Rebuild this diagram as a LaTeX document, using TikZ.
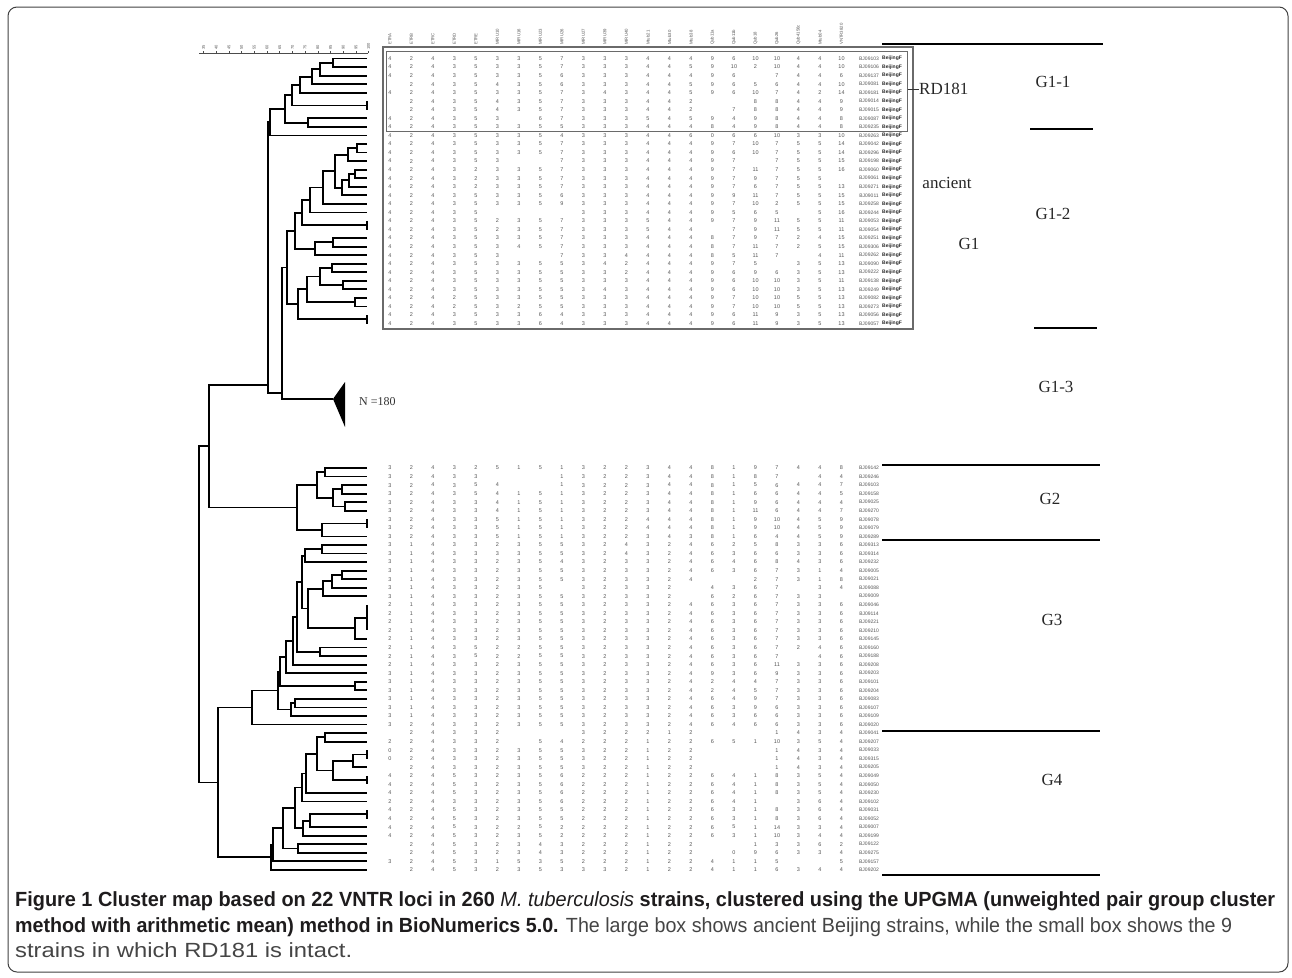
\documentclass[tikz,border=0pt]{standalone}
\usepackage{fontspec}
\usepackage{graphicx}
\setmainfont{Liberation Serif}
\newfontfamily\sansnum{Liberation Sans}
\newfontfamily\capfont{Liberation Sans}
\usetikzlibrary{calc}
\definecolor{capdark}{HTML}{1E1C1D}
\definecolor{capgray}{HTML}{454545}
\definecolor{numgray}{HTML}{555555}
\definecolor{boxgray}{HTML}{6A6A6A}
\newsavebox\capbox
\newcommand\fitline[2]{\sbox\capbox{#2}\pgfmathsetmacro\capsx{#1/\the\wd\capbox}\scalebox{\capsx}[1]{\usebox\capbox}}
\newcommand\mk[4]{%
  \coordinate (tx) at (#2,0);
  \coordinate (tm) at ($(#3)!.5!(#4)$);
  \coordinate (#1) at (tm -| tx);
  \draw[tree] (#3) -- (#3 -| #1) -- (#4 -| #1) -- (#4);}
\newcommand\tie[3]{%
  \coordinate (#1) at ($(#2)!.5!(#3)$);
  \draw[tree] (#2) -- (#3);}
\newcommand\tblock[4]{%
  \foreach \rowvals [count=\r from 0] in {#4}{%
    \foreach \v [count=\c from 0] in \rowvals {%
      \ifnum\c<22
        \node[num] (#1\r-\c) at ({390+21.5*\c},{#2+8.55*\r}) {\v};
      \else
        \node[sid] (#1id\r) at (869,{#2+8.55*\r}) {\v};
        \ifnum#3=1 \node[bj] (#1bj\r) at (892,{#2+8.55*\r}) {BeijingF};\fi
      \fi
    }%
  }%
}
\tikzset{
  tree/.style={line width=1.8pt, black, line join=miter},
  num/.style={font=\sansnum\fontsize{5.5}{6}\selectfont, text=numgray, inner sep=0pt},
  sid/.style={font=\sansnum\fontsize{5}{6}\selectfont, text=numgray, inner sep=0pt},
  bj/.style={font=\sansnum\bfseries\fontsize{5}{6}\selectfont, text=black!85, inner sep=0pt},
  hdr/.style={font=\sansnum\fontsize{4.3}{5}\selectfont, text=numgray, inner sep=0pt, rotate=90, anchor=west},
  scl/.style={font=\sansnum\fontsize{4}{5}\selectfont, text=numgray, inner sep=0pt, rotate=90, anchor=west},
  lab/.style={font=\fontsize{17}{20}\selectfont, text=black!85, inner sep=0pt},
  sep/.style={line width=2.7pt, black},
  tbox/.style={draw=boxgray, line width=1.3pt},
  capline/.style={anchor=base west, inner sep=0pt}
}
\begin{document}
\begin{tikzpicture}[x=1pt,y=-1pt]
\useasboundingbox (0,0) rectangle (1292,977);
\draw[black!75, line width=1pt, rounded corners=9pt] (8,7) rectangle (1288,972);

% scale bar
\draw[line width=0.8pt, black!70] (199,53) -- (368,53);
\foreach \s [count=\i from 0] in {35,40,45,50,55,60,65,70,75,80,85,90,95,100}{
  \draw[line width=0.5pt, black!70] ({203.5+12.7*\i},53) -- ({203.5+12.7*\i},50.5);
  \node[scl] (sc\i) at ({203.5+12.7*\i},50) {\s};
}

% column headers
\foreach \h [count=\c from 0] in {ETRA,ETRB,ETRC,ETRD,ETRE,MIRU10,MIRU16,MIRU23,MIRU26,MIRU27,MIRU39,MIRU40,Mtub21,Mtub30,Mtub38,Qub11a,Qub11b,Qub18,Qub26,Qub4156c,Mtub04,VNTR3820}{
  \node[hdr] (h\c) at ({390+21.5*\c},45) {\h};
}

% boxes
\draw[tbox] (383,47) rectangle (913,329);
\draw[tbox] (386.5,51.5) rectangle (907.5,131.5);

% table G1
\tblock{g}{58.5}{1}{%
{4,2,4,3,5,3,3,5,7,3,3,3,4,4,4,9,6,10,10,4,4,10,BJ09103},
{4,2,4,3,5,3,3,5,7,3,3,3,4,4,5,9,10,2,10,4,4,10,BJ09106},
{4,2,4,3,5,3,3,5,6,3,3,3,4,4,4,9,6,,7,4,4,6,BJ09137},
{,2,4,3,5,4,3,5,6,3,3,3,4,4,5,9,6,5,6,4,4,10,BJ09081},
{4,2,4,3,5,3,3,5,7,3,4,3,4,4,5,9,6,10,7,4,2,14,BJ09181},
{,2,4,3,5,4,3,5,7,3,3,3,4,4,2,,,8,8,4,4,9,BJ09014},
{,2,4,3,5,4,3,5,7,3,3,3,4,4,2,,7,8,8,4,4,9,BJ09015},
{4,2,4,3,5,3,,6,7,3,3,3,5,4,5,9,4,9,8,4,4,8,BJ09087},
{4,2,4,3,5,3,3,5,5,3,3,3,4,4,4,8,4,9,8,4,4,8,BJ09235},
{4,2,4,3,5,3,3,5,4,3,3,3,4,4,6,0,6,6,10,3,3,10,BJ09263},
{4,2,4,3,5,3,3,5,7,3,3,3,4,4,4,9,7,10,7,5,5,14,BJ09042},
{4,2,4,3,5,3,3,5,7,3,3,3,4,4,4,9,6,10,7,5,5,14,BJ09296},
{4,2,4,3,5,3,,,7,3,3,3,4,4,4,9,7,,7,5,5,15,BJ09198},
{4,2,4,3,2,3,3,5,7,3,3,3,4,4,4,9,7,11,7,5,5,16,BJ09060},
{4,2,4,3,2,3,3,5,7,3,3,3,4,4,4,9,7,9,7,5,5,,BJ09061},
{4,2,4,3,2,3,3,5,7,3,3,3,4,4,4,9,7,6,7,5,5,13,BJ09271},
{4,2,4,3,5,3,3,5,6,3,3,3,4,4,4,9,9,11,7,5,5,15,BJ09011},
{4,2,4,3,5,3,3,5,9,3,3,3,4,4,4,9,7,10,2,5,5,15,BJ09258},
{4,2,4,3,5,,,,,3,3,3,4,4,4,9,5,6,5,,5,16,BJ09244},
{4,2,4,3,5,2,3,5,7,3,3,3,5,4,4,9,7,9,11,5,5,11,BJ09053},
{4,2,4,3,5,2,3,5,7,3,3,3,5,4,4,,7,9,11,5,5,11,BJ09054},
{4,2,4,3,5,3,3,5,7,3,3,3,4,4,4,8,7,9,7,2,4,15,BJ09251},
{4,2,4,3,5,3,4,5,7,3,3,3,4,4,4,8,7,11,7,2,5,15,BJ09306},
{4,2,4,3,5,3,,,7,3,3,4,4,4,4,8,5,11,7,,4,11,BJ09262},
{4,2,4,3,5,3,3,5,5,3,4,2,4,4,4,9,7,5,,3,5,13,BJ09090},
{4,2,4,3,5,3,3,5,5,3,3,2,4,4,4,9,6,9,6,3,5,13,BJ09222},
{4,2,4,3,5,3,3,5,5,3,3,3,4,4,4,9,6,10,10,3,5,11,BJ09138},
{4,2,4,3,5,3,3,5,5,3,4,3,4,4,4,9,6,10,10,3,5,13,BJ09249},
{4,2,4,2,5,3,3,5,5,3,3,3,4,4,4,9,7,10,10,5,5,13,BJ09082},
{4,2,4,2,5,3,2,5,5,3,3,3,4,4,4,9,7,10,10,5,5,13,BJ09273},
{4,2,4,3,5,3,3,6,4,3,3,3,4,4,4,9,6,11,9,3,5,13,BJ09056},
{4,2,4,3,5,3,3,6,4,3,3,3,4,4,4,9,6,11,9,3,5,13,BJ09057}}

% table lower block
\tblock{l}{468}{0}{%
{3,2,4,3,2,5,1,5,1,3,2,2,3,4,4,8,1,9,7,4,4,8,BJ09142},
{3,2,4,3,3,,,,1,3,2,2,3,4,4,8,1,8,7,,4,4,BJ09246},
{3,2,4,3,5,4,,,1,3,2,2,3,4,4,8,1,5,6,4,4,7,BJ09103},
{3,2,4,3,5,4,1,5,1,3,2,2,3,4,4,8,1,6,6,4,4,5,BJ09158},
{3,2,4,3,3,4,1,5,1,3,2,2,3,4,4,8,1,9,6,4,4,4,BJ09025},
{3,2,4,3,3,4,1,5,1,3,2,2,3,4,4,8,1,11,6,4,4,7,BJ09270},
{3,2,4,3,3,5,1,5,1,3,2,2,4,4,4,8,1,9,10,4,5,9,BJ09078},
{3,2,4,3,3,5,1,5,1,3,2,2,4,4,4,8,1,9,10,4,5,9,BJ09079},
{3,2,4,3,3,5,1,5,1,3,2,2,3,4,3,8,1,6,4,4,5,9,BJ09289},
{3,1,4,3,3,2,3,5,5,3,2,4,3,2,4,6,2,5,8,3,3,6,BJ09313},
{3,1,4,3,3,3,3,5,5,3,2,4,3,2,4,6,3,6,6,3,3,6,BJ09314},
{3,1,4,3,3,2,3,5,4,3,2,3,3,2,4,6,4,6,8,4,3,6,BJ09232},
{3,1,4,3,3,2,3,5,5,3,2,3,3,2,4,6,3,6,7,3,1,4,BJ09005},
{3,1,4,3,3,2,3,5,5,3,2,3,3,2,4,,,2,7,3,1,8,BJ09021},
{3,1,4,3,3,2,3,5,,3,2,3,3,2,,4,3,6,7,,3,4,BJ09088},
{3,1,4,3,3,2,3,5,5,3,2,3,3,2,,6,2,6,7,3,3,,BJ09009},
{2,1,4,3,3,2,3,5,5,3,2,3,3,2,4,6,3,6,7,3,3,6,BJ09046},
{2,1,4,3,3,2,3,5,5,3,2,3,3,2,4,6,3,6,7,3,3,6,BJ09114},
{2,1,4,3,3,2,3,5,5,3,2,3,3,2,4,6,3,6,7,3,3,6,BJ09221},
{2,1,4,3,3,2,3,5,5,3,2,3,3,2,4,6,3,6,7,3,3,6,BJ09210},
{2,1,4,3,3,2,3,5,5,3,2,3,3,2,4,6,3,6,7,3,3,6,BJ09145},
{2,1,4,3,5,2,2,5,5,3,2,3,3,2,4,6,3,6,7,2,4,6,BJ09160},
{2,1,4,3,5,2,2,5,5,3,2,3,3,2,4,6,3,6,7,,4,6,BJ09188},
{2,1,4,3,3,2,3,5,5,3,2,3,3,2,4,6,3,6,11,3,3,6,BJ09208},
{3,1,4,3,3,2,3,5,5,3,2,3,3,2,4,9,3,6,9,3,3,6,BJ09203},
{3,1,4,3,3,2,3,5,5,3,2,3,3,2,4,2,4,4,7,3,3,6,BJ09101},
{3,1,4,3,3,2,3,5,5,3,2,3,3,2,4,2,4,5,7,3,3,6,BJ09204},
{3,1,4,3,3,2,3,5,5,3,2,3,3,2,4,6,4,9,7,3,3,6,BJ09083},
{3,1,4,3,3,2,3,5,5,3,2,3,3,2,4,6,3,9,6,3,3,6,BJ09107},
{3,1,4,3,3,2,3,5,5,3,2,3,3,2,4,6,3,6,6,3,3,6,BJ09109},
{3,2,4,3,3,2,3,5,5,3,2,3,3,2,4,6,4,6,6,3,3,6,BJ09020},
{,2,4,3,3,2,,,,3,2,2,2,1,2,,,,1,4,3,4,BJ09041},
{2,2,4,3,3,2,,5,4,2,2,2,1,2,2,6,5,1,10,3,5,4,BJ09207},
{0,2,4,3,3,2,3,5,5,3,2,2,1,2,2,,,,1,4,3,4,BJ09033},
{0,2,4,3,3,2,3,5,5,3,2,2,1,2,2,,,,1,4,3,4,BJ09315},
{,2,4,3,3,2,3,5,5,3,2,2,1,2,2,,,,1,4,3,4,BJ09205},
{4,2,4,5,3,2,3,5,6,2,2,2,1,2,2,6,4,1,8,3,5,4,BJ09049},
{4,2,4,5,3,2,3,5,6,2,2,2,1,2,2,6,4,1,8,3,5,4,BJ09050},
{4,2,4,5,3,2,3,5,6,2,2,2,1,2,2,6,4,1,8,3,5,4,BJ09230},
{2,2,4,3,3,2,3,5,6,2,2,2,1,2,2,6,4,1,,3,6,4,BJ09102},
{4,2,4,5,3,2,3,5,5,2,2,2,1,2,2,6,3,1,8,3,6,4,BJ09031},
{4,2,4,5,3,2,3,5,5,2,2,2,1,2,2,6,3,1,8,3,6,4,BJ09052},
{4,2,4,5,3,2,2,5,2,2,2,2,1,2,2,6,5,1,14,3,3,4,BJ09007},
{4,2,4,5,3,2,3,5,2,2,2,2,1,2,2,6,3,1,10,3,4,4,BJ09199},
{,2,4,5,3,2,3,4,3,2,2,2,1,2,2,,,1,3,3,6,2,BJ09122},
{,2,4,5,3,2,3,4,3,2,2,2,1,2,2,,0,9,6,3,3,4,BJ09275},
{3,2,4,5,3,1,5,3,5,2,2,2,1,2,2,4,1,1,5,,,5,BJ09157},
{,2,4,5,3,2,3,5,3,3,3,2,1,2,2,4,1,1,6,3,4,4,BJ09202}}

% leaves
\foreach \r in {0,...,31}{\coordinate (a\r) at (367,{58.5+8.55*\r});}
\foreach \r in {0,...,47}{\coordinate (b\r) at (367,{468+8.55*\r});}

% G1-1
\mk{n1}{333.3}{a0}{a1}
\mk{n2}{320}{n1}{a2}
\mk{n3}{311.7}{n2}{a3}
\mk{n4}{300}{n3}{a4}
\tie{p56}{a5}{a6}
\mk{n5}{291.7}{n4}{p56}
\mk{n6}{308.3}{a7}{a8}
\mk{n7}{285}{n5}{n6}
\mk{n8}{270}{n7}{a9}
% G1-2
\mk{m1}{356.7}{a10}{a11}
\mk{m2}{348.3}{m1}{a12}
\mk{m3}{355}{a13}{a14}
\mk{m4}{349.3}{m3}{a15}
\mk{m5}{342}{m4}{a16}
\mk{m6}{335}{m2}{m5}
\mk{m7}{322.7}{m6}{a17}
\mk{m8}{310}{m7}{a18}
\tie{p1920}{a19}{a20}
\mk{m9}{301.7}{m8}{p1920}
\mk{m10}{333.3}{a21}{a22}
\mk{m11}{315}{m10}{a23}
\mk{m12}{295}{m9}{m11}
\mk{m13}{331.7}{a24}{a25}
\mk{m14}{343.3}{a26}{a27}
\mk{m15}{320}{m13}{m14}
\mk{m16}{355}{a28}{a29}
\mk{m17}{306.7}{m15}{m16}
\tie{p3031}{a30}{a31}
\mk{m18}{298.3}{m17}{p3031}
\mk{m19}{286.7}{m12}{m18}
% G2
\mk{q1}{325}{b0}{b1}
\mk{q2}{341.7}{b2}{b3}
\mk{q3}{345}{b4}{b5}
\mk{q4}{333.3}{q2}{q3}
\mk{q5}{316.7}{q1}{q4}
\tie{pb67}{b6}{b7}
\mk{q6}{321.7}{pb67}{b8}
\mk{G2n}{296.7}{q5}{q6}
% G3
\mk{r1}{321.7}{b9}{b10}
\mk{r2}{305}{r1}{b11}
\mk{r3}{341.7}{b12}{b13}
\mk{r4}{331.7}{r3}{b14}
\mk{r5}{323.3}{r4}{b15}
\tie{t1619}{b16}{b19}
\mk{r6}{355}{t1619}{b20}
\mk{r7}{308.3}{r5}{r6}
\mk{r8}{301.7}{r2}{r7}
\mk{r9}{320}{b21}{b22}
\mk{r10}{296.7}{r8}{r9}
\mk{r11}{293.3}{r10}{b23}
\mk{r12}{286}{r11}{b24}
\mk{r13}{355}{b25}{b26}
\mk{r14}{280}{r12}{r13}
\mk{r15}{295}{b27}{b28}
\mk{r16}{290.7}{r15}{b29}
\mk{r17}{278.3}{r14}{r16}
\mk{G3n}{252.3}{r17}{b30}
% G4
\mk{s1}{325}{b31}{b32}
\tie{t3334}{b33}{b34}
\mk{s2}{353.3}{t3334}{b35}
\tie{t3637}{b36}{b37}
\mk{s3}{333.3}{s2}{t3637}
\mk{s4}{316.7}{s1}{s3}
\mk{s5}{306}{s4}{b38}
\mk{s6}{301.7}{s5}{b39}
\tie{t4041}{b40}{b41}
\mk{s7}{310}{t4041}{b42}
\mk{s8}{303.3}{s7}{b43}
\mk{s9}{295}{s6}{s8}
\mk{s10}{298.3}{b44}{b45}
\mk{s11}{282.7}{s9}{s10}
\mk{s12}{273.3}{s11}{b46}
\mk{G4n}{270.7}{s12}{b47}
% upper joins
\coordinate (Px) at (268,0);
\coordinate (Qx) at (282,0);
\coordinate (Sx) at (209,0);
\coordinate (Pin) at (268,385);
\coordinate (Qin) at (282,393);
\coordinate (tri) at (333,399);
\draw[tree] (n8) -- (n8 -| Px) -- (268,393) -- (Qin);
\draw[tree] (m19) -- (m19 -| Qx) -- (282,399) -- (tri);
\fill (tri) -- (345,382) -- (345,427) -- cycle;
\node[font=\fontsize{12}{14}\selectfont, text=black!80, anchor=west, inner sep=0pt] (nlab) at (359,402) {N =180};
\draw[tree] (Pin) -- (209,385) -- (G2n -| Sx) -- (G2n);
\coordinate (S) at ($(209,385)!.5!(G2n -| Sx)$);
\mk{T}{218}{G3n}{G4n}
\mk{R}{199}{S}{T}

% right side separators
\draw[sep] (882,44) -- (1103,44);
\draw[sep] (1030,129) -- (1093,129);
\draw[sep] (1034,328) -- (1097,328);
\draw[sep] (882,465) -- (1100,465);
\draw[sep] (882,540) -- (1100,540);
\draw[sep] (882,731) -- (1100,731);
\draw[sep] (882,875) -- (1100,875);

% labels
\node[lab, anchor=west] (rdl) at (919,89) {RD181};
\draw[line width=0.8pt, black!80] (907.5,89) -- (rdl.west);
\node[lab] (g11) at (1053,82) {G1-1};
\node[lab] (g12) at (1053,214) {G1-2};
\node[lab] (g13) at (1056,387) {G1-3};
\node[lab] (anc) at (947,183) {ancient};
\node[lab] (g1) at (969,244) {G1};
\node[lab] (g2) at (1050,499) {G2};
\node[lab] (g3) at (1052,620) {G3};
\node[lab] (g4) at (1052,780) {G4};

% caption
\node[capline] (cap1) at (15,906) {\fitline{1260}{\capfont\fontsize{20.5}{24}\selectfont\color{capdark}\bfseries Figure 1 Cluster map based on 22 VNTR loci in 260 {\mdseries\itshape M. tuberculosis} strains, clustered using the UPGMA (unweighted pair group cluster}};
\node[capline] (cap2) at (15,932) {\fitline{1217}{\capfont\fontsize{20.5}{24}\selectfont{\color{capdark}\bfseries method with arithmetic mean) method in BioNumerics 5.0.} {\color{capgray}The large box shows ancient Beijing strains, while the small box shows the 9}}};
\node[capline] (cap3) at (15,957) {\fitline{337}{\capfont\fontsize{20.5}{24}\selectfont\color{capgray}strains in which RD181 is intact.}};
\end{tikzpicture}
\end{document}
